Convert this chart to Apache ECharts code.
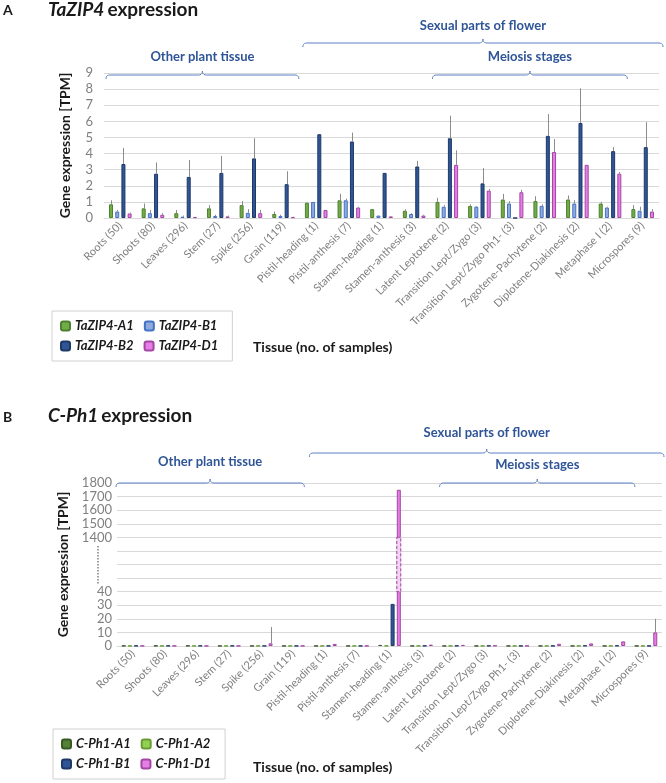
<!DOCTYPE html>
<html><head><meta charset="utf-8">
<script src="https://cdn.jsdelivr.net/npm/echarts@6/dist/echarts.min.js"></script>
<style>html,body{margin:0;padding:0;background:#fff}#c{width:666px;height:783px}</style>
</head><body><div id="c"></div>
<script>
const categories = ['Roots (50)','Shoots (80)','Leaves (296)','Stem (27)','Spike (256)','Grain (119)','Pistil-heading (1)','Pistil-anthesis (7)','Stamen-heading (1)','Stamen-anthesis (3)','Latent Leptotene (2)','Transition Lept/Zygo (3)','Transition Lept/Zygo Ph1- (3)','Zygotene-Pachytene (2)','Diplotene-Diakinesis (2)','Metaphase I (2)','Microspores (9)'];

// Panel A: TaZIP4 (TPM)
const zipA1    = [0.85,0.6,0.3,0.6,0.8,0.25,0.95,1.1,0.55,0.45,1.0,0.75,1.15,1.05,1.15,0.9,0.55];
const zipA1Err = [1.1,0.9,0.5,0.8,1.05,0.4,null,1.5,null,0.55,1.25,0.85,1.5,1.35,1.4,1.0,0.8];
const zipB1    = [0.4,0.3,0.08,0.12,0.32,0.12,1.0,1.1,0.15,0.25,0.7,0.7,0.9,0.75,0.9,0.65,0.45];
const zipB1Err = [0.5,0.5,0.15,0.2,0.55,0.2,null,1.2,null,0.3,0.8,0.75,1.05,0.85,1.1,0.7,0.7];
const zipB2    = [3.35,2.75,2.55,2.8,3.7,2.1,5.2,4.75,2.8,3.2,4.95,2.15,0,5.1,5.9,4.15,4.4];
const zipB2Err = [4.35,3.45,3.6,3.85,4.95,2.9,null,5.3,null,3.55,6.35,3.1,null,6.45,8.05,4.4,5.95];
const zipD1    = [0.28,0.2,0.05,0.1,0.3,0.05,0.5,0.65,0.1,0.15,3.3,1.7,1.6,4.1,3.3,2.75,0.4];
const zipD1Err = [0.35,0.3,0.08,0.15,0.5,0.08,null,0.7,null,0.2,4.2,1.8,1.75,4.9,null,2.85,0.55];

// Panel B: C-Ph1 (TPM)
const cphA1    = [0.2,0.2,0.2,0.1,0.1,0.1,0.1,0.1,0.8,0.1,0.1,0.1,0.1,0.1,0.1,0.1,0.1];
const cphA2    = [0.1,0.1,0.1,0.1,0.1,0.1,0.1,0.1,0.2,0.1,0.1,0.1,0.1,0.1,0.1,0.1,0.1];
const cphB1    = [0.2,0.2,0.2,0.2,0.1,0.1,0.1,0.1,31,0.2,0.2,0.2,0.1,0.1,0.3,0.3,0.1];
const cphD1    = [0.1,0.1,0.05,0.1,2,0.1,1.5,0.1,1750,1.0,0.8,0.3,0.1,1.6,1.9,3.4,10];
const cphD1Err = [null,null,null,null,14,null,null,null,null,null,null,null,null,null,null,null,20];

const yTicksA = ['0','1','2','3','4','5','6','7','8','9'];
const yTicksB = ['0','10','20','30','40','','','','1400','1500','1600','1700','1800'];

const FONT = 'Lato, "Open Sans", sans-serif';
// broken axis scale for panel B
function brk(v){ if(v==null) return null; if(v<=40) return v/10; if(v>=1400) return 8+(v-1400)/100; return 4+(v-40)/1360*4; }

const BW = 4, GAP = 0.55;
function offs(i){ const tot = 4*BW + 3*GAP*BW; return -tot/2 + BW/2 + i*BW*(1+GAP); }

function bar(name, data, color, border, xi){
  return {name, type:'bar', xAxisIndex:xi, yAxisIndex:xi, data, barWidth:BW, barGap:(GAP*100)+'%',
    itemStyle:{color, borderColor:border, borderWidth:1}, z:2};
}
function err(vals, errs, i, xi, map){
  const d = [];
  vals.forEach((v,k)=>{ if(errs[k]!=null) d.push([k, map(v), map(errs[k])]); });
  return {type:'custom', xAxisIndex:xi, yAxisIndex:xi, data:d, z:5, silent:true,
    renderItem:(p,api)=>{
      const a = api.coord([api.value(0), api.value(1)]);
      const b = api.coord([api.value(0), api.value(2)]);
      const x = Math.round(a[0]+offs(i))+0.5;
      return {type:'line', shape:{x1:x,y1:a[1],x2:x,y2:b[1]}, style:{stroke:'#8c8c8c', lineWidth:1}};
    }};
}
const id = v=>v;

const C = {
  zA1:['#70ad47','#4f7f30'], zB1:['#8faadc','#4472c4'], zB2:['#2f5597','#1f3864'], zD1:['#e57ee5','#a347a3'],
  cA1:['#548235','#385723'], cA2:['#92d050','#6a9a35'], cB1:['#2f5597','#1f3864'], cD1:['#e57ee5','#a347a3']
};

const xAxisBase = (gi)=>({type:'category', gridIndex:gi, data:categories,
  axisLine:{lineStyle:{color:'#d9d9d9'}}, axisTick:{show:false},
  axisLabel:{rotate:45, color:'#808080', fontSize:11, fontFamily:FONT, margin:6, interval:0}});

const chart = echarts.init(document.getElementById('c'), null, {renderer:'canvas'});
chart.setOption({
  animation:false,
  textStyle:{fontFamily:FONT},
  grid:[{left:104, top:73, width:555, height:145},{left:117, top:483, width:545, height:163}],
  xAxis:[xAxisBase(0), xAxisBase(1)],
  yAxis:[
    {type:'value', gridIndex:0, min:0, max:9, interval:1,
     name:'Gene expression [TPM]', nameLocation:'middle', nameGap:32,
     nameTextStyle:{fontSize:14, fontWeight:'bold', color:'#1a1a1a', fontFamily:FONT},
     axisLabel:{color:'#808080', fontSize:13, margin:11, formatter:(v)=>yTicksA[Math.round(v)]},
     splitLine:{lineStyle:{color:'#d9d9d9'}}},
    {type:'value', gridIndex:1, min:0, max:12, interval:1,
     name:'Gene expression [TPM]', nameLocation:'middle', nameGap:45,
     nameTextStyle:{fontSize:14, fontWeight:'bold', color:'#1a1a1a', fontFamily:FONT},
     axisLabel:{color:'#808080', fontSize:13, margin:5, formatter:(v)=>yTicksB[Math.round(v)]},
     splitLine:{lineStyle:{color:'#d9d9d9'}}}
  ],
  legend:[
    {data:['TaZIP4-A1','TaZIP4-B1','TaZIP4-B2','TaZIP4-D1'], left:52, top:311, width:176, orient:'horizontal',
     itemWidth:9, itemHeight:9, itemGap:4, padding:[7,8,7,8], borderColor:'#d0d0d0', borderWidth:1,
     textStyle:{fontStyle:'italic', fontWeight:'bold', fontSize:13, color:'#1a1a1a', lineHeight:16, padding:[0,6,0,0], fontFamily:FONT}},
    {data:['C-Ph1-A1','C-Ph1-A2','C-Ph1-B1','C-Ph1-D1'], left:53, top:729, width:165, orient:'horizontal',
     itemWidth:9, itemHeight:9, itemGap:4, padding:[7,8,7,8], borderColor:'#d0d0d0', borderWidth:1,
     textStyle:{fontStyle:'italic', fontWeight:'bold', fontSize:13, color:'#1a1a1a', lineHeight:16, padding:[0,6,0,0], fontFamily:FONT}}
  ],
  series:[
    bar('TaZIP4-A1', zipA1, C.zA1[0], C.zA1[1], 0),
    bar('TaZIP4-B1', zipB1, C.zB1[0], C.zB1[1], 0),
    bar('TaZIP4-B2', zipB2, C.zB2[0], C.zB2[1], 0),
    bar('TaZIP4-D1', zipD1, C.zD1[0], C.zD1[1], 0),
    err(zipA1, zipA1Err, 0, 0, id), err(zipB1, zipB1Err, 1, 0, id),
    err(zipB2, zipB2Err, 2, 0, id), err(zipD1, zipD1Err, 3, 0, id),
    bar('C-Ph1-A1', cphA1.map(brk), C.cA1[0], C.cA1[1], 1),
    bar('C-Ph1-A2', cphA2.map(brk), C.cA2[0], C.cA2[1], 1),
    bar('C-Ph1-B1', cphB1.map(brk), C.cB1[0], C.cB1[1], 1),
    bar('C-Ph1-D1', cphD1.map(brk), C.cD1[0], C.cD1[1], 1),
    err(cphD1, cphD1Err, 3, 1, brk),
    // axis-break segment drawn over bars that cross the break
    {type:'custom', xAxisIndex:1, yAxisIndex:1, z:6, silent:true,
     data: cphD1.map((v,k)=>[k,v]).filter(d=>d[1]>=1400).map(d=>[d[0], brk(40), brk(1400)]),
     renderItem:(p,api)=>{
       const a = api.coord([api.value(0), api.value(1)]);
       const b = api.coord([api.value(0), api.value(2)]);
       const x = a[0]+offs(3)-BW/2;
       return {type:'rect', shape:{x:x, y:b[1], width:BW, height:a[1]-b[1]},
         style:{fill:'#f4d2f4', stroke:'#a347a3', lineWidth:1, lineDash:[3,2]}};
     }}
  ]
});

function quad(p0, c, p1, n, out){
  for(let t=1;t<=n;t++){ const s=t/n;
    out.push([(1-s)*(1-s)*p0[0]+2*(1-s)*s*c[0]+s*s*p1[0], (1-s)*(1-s)*p0[1]+2*(1-s)*s*c[1]+s*s*p1[1]]); }
}
function bracePts(x1, x2, xm, y){
  const r = 4, pts = [[x1, y+r]];
  quad([x1,y+r],[x1,y],[x1+r,y],5,pts);
  pts.push([xm-r,y]);
  quad([xm-r,y],[xm,y],[xm,y-r],5,pts);
  quad([xm,y-r],[xm,y],[xm+r,y],5,pts);
  pts.push([x2-r,y]);
  quad([x2-r,y],[x2,y],[x2,y+r],5,pts);
  return pts;
}
function catEdge(xi, k, side){
  const c0 = chart.convertToPixel({xAxisIndex:xi}, 0);
  const c1 = chart.convertToPixel({xAxisIndex:xi}, 1);
  const bw = c1 - c0;
  return chart.convertToPixel({xAxisIndex:xi}, k) + side*bw/2;
}
const g = [];
const labStyle = {fill:'#2f5597', fontSize:13, fontWeight:'bold', fontFamily:FONT};
function group(xi, k1, k2, y, label, ly, inset1, inset2){
  const x1 = catEdge(xi,k1,-1)+inset1, x2 = catEdge(xi,k2,1)+inset2, xm = (x1+x2)/2;
  g.push({type:'polyline', shape:{points:bracePts(x1,x2,xm,y)}, style:{fill:null, stroke:'#5b7fc4', lineWidth:1}, silent:true});
  g.push({type:'text', x:xm, y:ly, style:Object.assign({text:label, align:'center', verticalAlign:'middle'}, labStyle)});
}
// panel A annotations
group(0, 0, 5, 75, 'Other plant tissue', 57, 2, -1);
group(0, 6, 16, 43, 'Sexual parts of flower', 26, 3, 4);
group(0, 10, 15, 75, 'Meiosis stages', 57, 2, 1);
// panel B annotations
group(1, 0, 5, 483, 'Other plant tissue', 462, -1, -5);
group(1, 6, 16, 453, 'Sexual parts of flower', 433, 0, 2);
group(1, 10, 15, 483, 'Meiosis stages', 465, 2, 5);

// titles
g.push({type:'text', x:3, y:10, style:{text:'A', fontSize:14, fontWeight:'bold', fill:'#1a1a1a', fontFamily:FONT, verticalAlign:'middle'}});
g.push({type:'text', x:48, y:10, style:{text:'{i|TaZIP4} {n|expression}', verticalAlign:'middle', fontFamily:FONT,
  rich:{i:{fontSize:19, fontWeight:'bold', fontStyle:'italic', fill:'#1a1a1a', fontFamily:FONT}, n:{fontSize:19, fontWeight:'bold', fill:'#1a1a1a', fontFamily:FONT}}}});
g.push({type:'text', x:3, y:417, style:{text:'B', fontSize:14, fontWeight:'bold', fill:'#1a1a1a', fontFamily:FONT, verticalAlign:'middle'}});
g.push({type:'text', x:48, y:416, style:{text:'{i|C-Ph1} {n|expression}', verticalAlign:'middle', fontFamily:FONT,
  rich:{i:{fontSize:19, fontWeight:'bold', fontStyle:'italic', fill:'#1a1a1a', fontFamily:FONT}, n:{fontSize:19, fontWeight:'bold', fill:'#1a1a1a', fontFamily:FONT}}}});
// x-axis names
g.push({type:'text', x:253, y:347, style:{text:'Tissue (no. of samples)', fontSize:14, fontWeight:'bold', fill:'#1a1a1a', fontFamily:FONT, verticalAlign:'middle'}});
g.push({type:'text', x:253, y:767, style:{text:'Tissue (no. of samples)', fontSize:14, fontWeight:'bold', fill:'#1a1a1a', fontFamily:FONT, verticalAlign:'middle'}});
// broken-axis dotted marker
const yb1 = chart.convertToPixel({yAxisIndex:1}, 4.6), yb2 = chart.convertToPixel({yAxisIndex:1}, 7.4);
g.push({type:'line', shape:{x1:98, y1:yb1, x2:98, y2:yb2}, style:{stroke:'#808080', lineWidth:1.5, lineDash:[1.5,1.5]}, silent:true});

chart.setOption({graphic:g});
</script></body></html>
